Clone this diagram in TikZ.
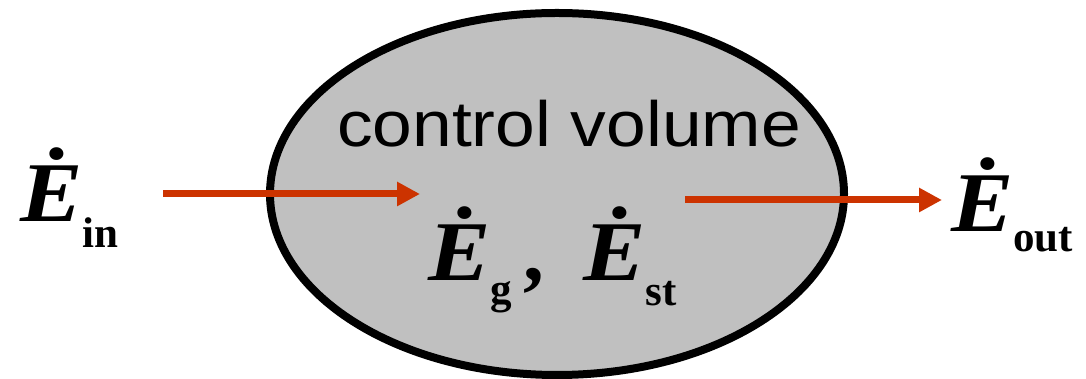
\documentclass[tikz,border=0pt]{standalone}
\usepackage{fontspec}
\setmainfont{Liberation Serif}
\newfontfamily\cvfont{Liberation Sans}[FakeStretch=1.115]
\newfontfamily\efont{Liberation Serif}[FakeStretch=1.1]
\usetikzlibrary{arrows.meta}
\definecolor{flowred}{RGB}{204,51,0}
\definecolor{cvgray}{RGB}{192,192,192}
\tikzset{
  lbl/.style={inner sep=0pt, outer sep=0pt, anchor=base west},
  flow/.style={draw=flowred, line width=7pt, -{Triangle[length=23pt,width=23pt]}, fill=flowred},
}
\newcommand{\Edot}[2]{{\efont\fontsize{85}{85}\selectfont\bfseries\itshape \.{E}}\raisebox{#1}{\fontsize{43}{43}\selectfont\bfseries #2}}
\begin{document}
\begin{tikzpicture}[x=1pt,y=1pt]
\useasboundingbox (0,0) rectangle (1086,379);
\path[draw=black, line width=8pt, fill=cvgray] (557,185) ellipse [x radius=287, y radius=181];
\coordinate (cv) at (557,185);
\node[lbl] (cvtext) at (337,232) {\cvfont\fontsize{64}{64}\selectfont control volume};
\node[lbl] (ein) at (20,157) {\Edot{-26pt}{in}};
\node[lbl] (eg) at (428,98) {\Edot{-23pt}{g}\kern12pt{\fontsize{83}{83}\selectfont\bfseries ,}};
\node[lbl] (est) at (583,98) {\Edot{-25pt}{st}};
\node[lbl] (eout) at (951,147) {\Edot{-20pt}{out}};
\coordinate (inA) at (163,185);
\coordinate (inB) at (420,185);
\coordinate (outA) at (685,179);
\coordinate (outB) at (942,179);
\draw[flow] (inA) -- (inB);
\draw[flow] (outA) -- (outB);
\end{tikzpicture}
\end{document}
